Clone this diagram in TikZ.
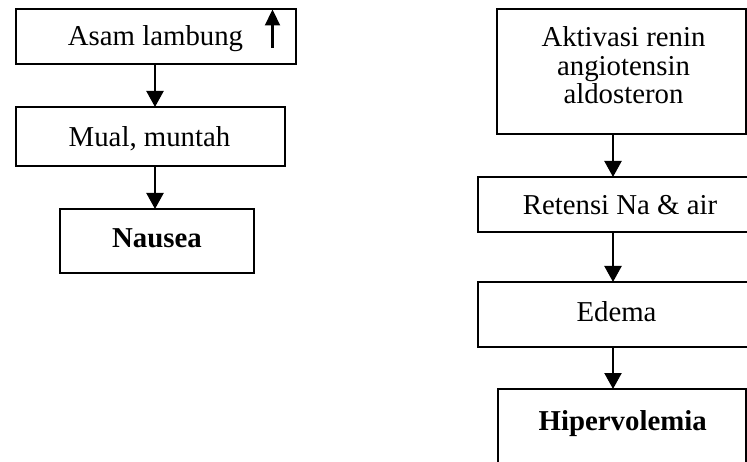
\documentclass[tikz,border=0pt]{standalone}
\usepackage{fontspec}
\setmainfont{Liberation Serif}
\usetikzlibrary{arrows.meta}
\begin{document}
\begin{tikzpicture}[x=1pt,y=-1pt,
  box/.style={draw=black, line width=1.6pt, rectangle, inner sep=0pt, outer sep=0pt},
  txt/.style={inner sep=0pt, font=\fontsize{28.8}{28.5}\selectfont, anchor=base, align=center},
  btxt/.style={txt, font=\fontsize{28.8}{28.5}\selectfont\bfseries},
  arr/.style={line width=2.2pt, -{Triangle[width=17pt,length=16pt]}},
  uparr/.style={line width=2.2pt, -{Triangle[width=15pt,length=16pt]}}]
\useasboundingbox (0,0) rectangle (747,462);
\clip (0,0) rectangle (747,462);
\fill[white] (0,0) rectangle (747,462);
% left column boxes
\node[box, minimum width=280pt, minimum height=55pt] (asam) at (156,36.5) {};
\node[box, minimum width=269pt, minimum height=59pt] (mual) at (150.5,136.5) {};
\node[box, minimum width=194pt, minimum height=64pt] (nausea) at (157,241) {};
% right column boxes
\node[box, minimum width=249pt, minimum height=125pt] (aktiv) at (621.5,71.5) {};
\node[box, minimum width=274pt, minimum height=55pt] (retensi) at (615,204.5) {};
\node[box, minimum width=274pt, minimum height=65pt] (edema) at (615,314.5) {};
\node[box, minimum width=248pt, minimum height=86pt] (hiper) at (622,432) {};
% texts
\node[txt] (tasam) at (155.5,45.7) {Asam lambung};
\node[txt] (tmual) at (149.5,146.7) {Mual, muntah};
\node[btxt] (tnausea) at (157,248) {Nausea};
\node[txt] (taktiv) at (623.5,104) {Aktivasi renin\\angiotensin\\aldosteron};
\node[txt] (tretensi) at (620,215) {Retensi Na \& air};
\node[txt] (tedema) at (616.5,322) {Edema};
\node[btxt] (thiper) at (622.7,430) {Hipervolemia};
% arrow columns
\coordinate (lx) at (155,0);
\coordinate (rx) at (613,0);
\draw[arr] (asam.south -| lx) -- (mual.north -| lx);
\draw[arr] (mual.south -| lx) -- (nausea.north -| lx);
\draw[arr] (aktiv.south -| rx) -- (retensi.north -| rx);
\draw[arr] (retensi.south -| rx) -- (edema.north -| rx);
\draw[arr] (edema.south -| rx) -- (hiper.north -| rx);
% up arrow inside first box
\coordinate (upb) at (272.5,48);
\coordinate (upt) at (272.5,9.5);
\draw[uparr] (upb) -- (upt);
\end{tikzpicture}
\end{document}
